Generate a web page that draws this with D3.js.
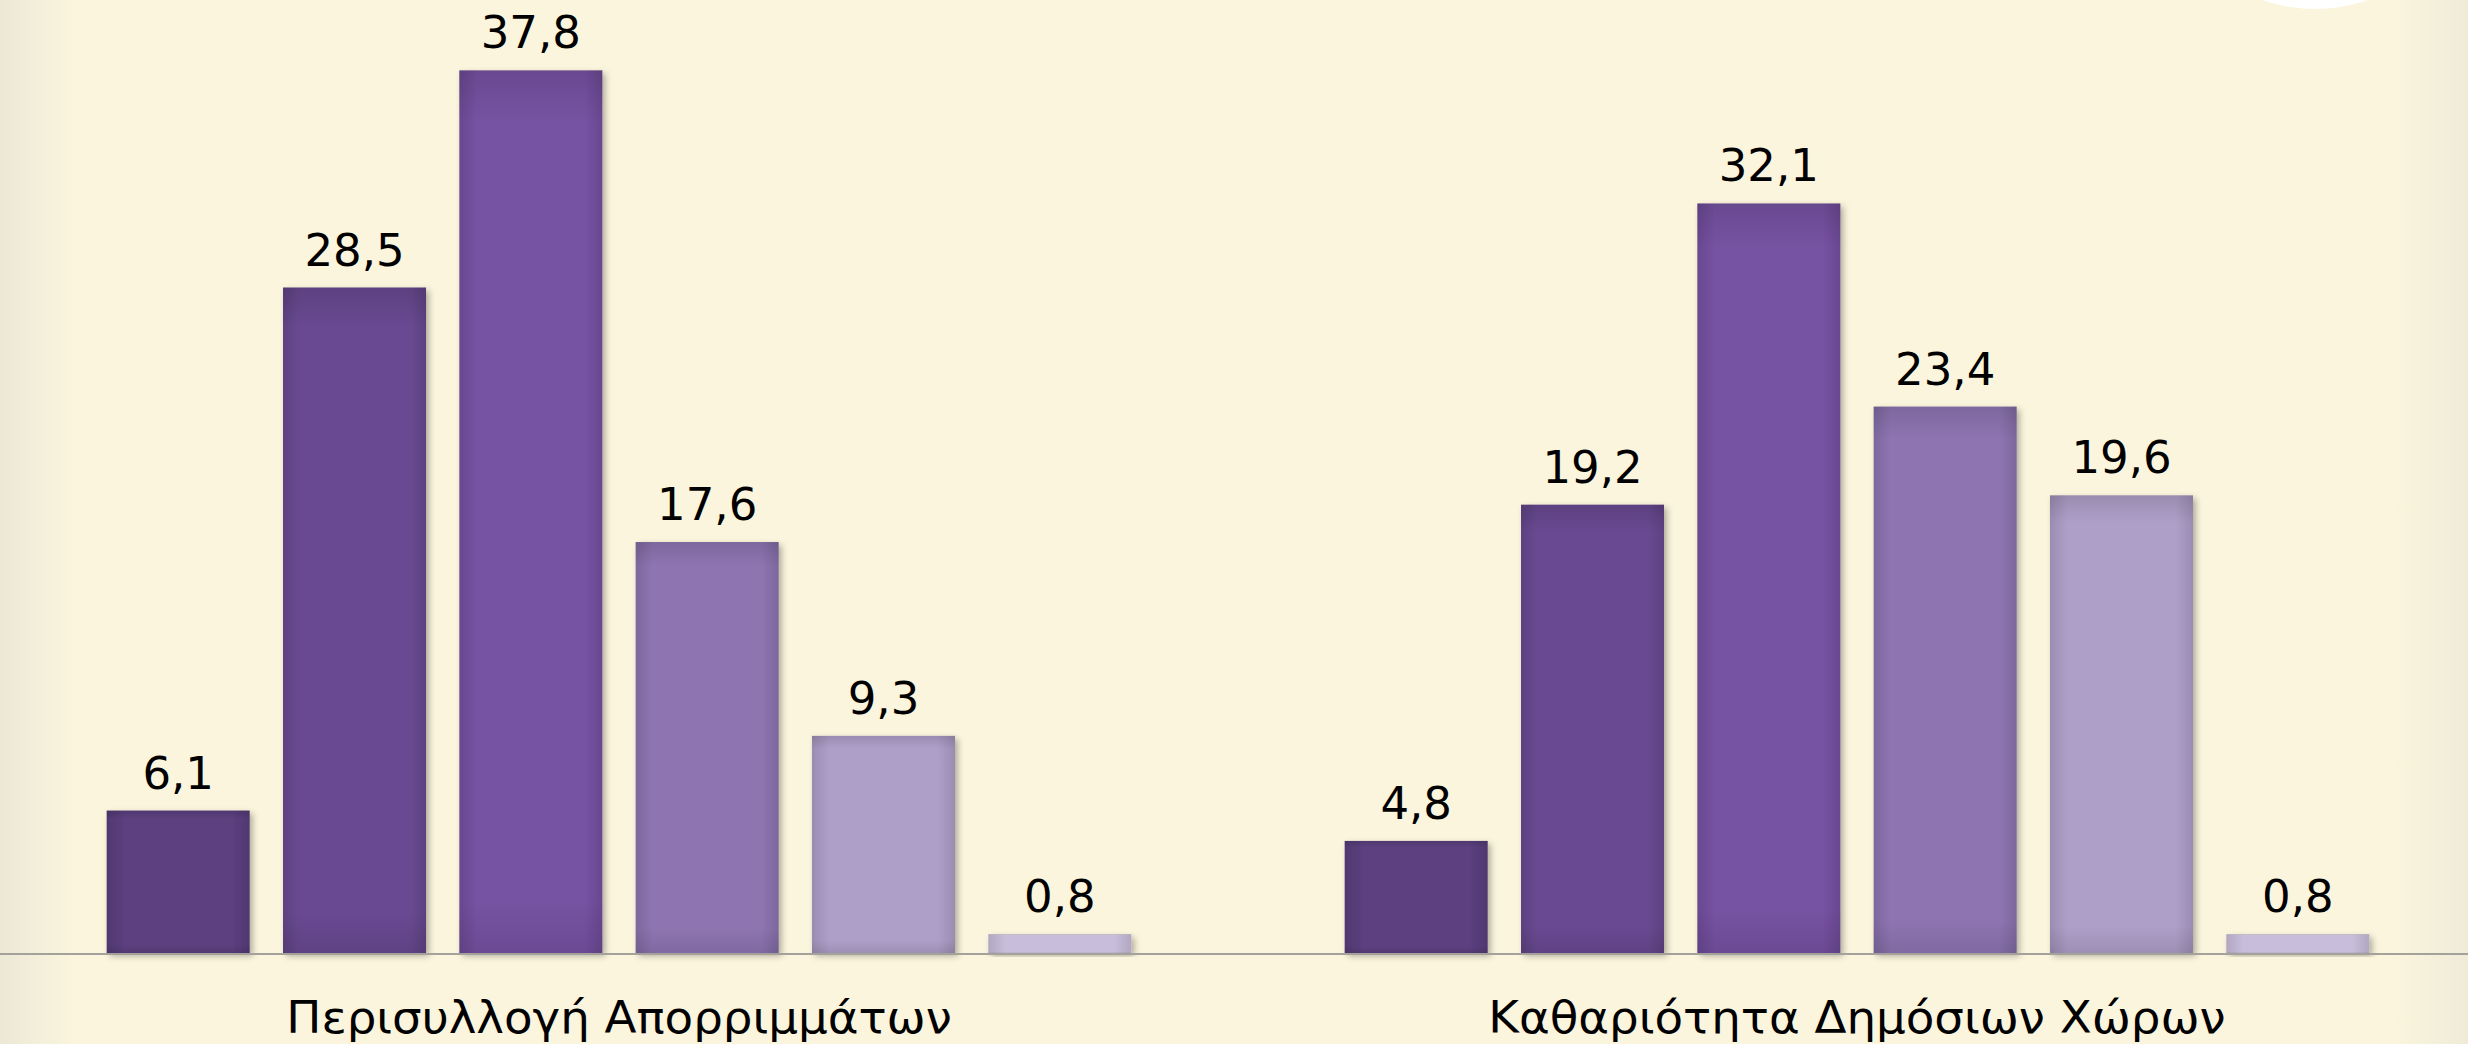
<!DOCTYPE html>
<html>
<head>
<meta charset="utf-8">
<script src="https://cdn.jsdelivr.net/npm/d3@7"></script>
<style>
  html, body { margin: 0; padding: 0; background: #fbf5dd; }
  svg { display: block; }
</style>
</head>
<body>
<svg id="chart"></svg>
<script>
// data
var categories = ["Περισυλλογή Απορριμμάτων", "Καθαριότητα Δημόσιων Χώρων"];
var seriesKeys = ["s1", "s2", "s3", "s4", "s5", "s6"];
var valuesWaste = [6.1, 28.5, 37.8, 17.6, 9.3, 0.8];
var valuesCleaning = [4.8, 19.2, 32.1, 23.4, 19.6, 0.8];
var seriesColors = ["#5b3f7f", "#694a92", "#7752a3", "#8e75b2", "#ae9fc8", "#c8bddb"];

var W = 2468, H = 1044;
var table = [valuesWaste, valuesCleaning].map(function(vals, i){
    return { cat: categories[i], vals: vals.map(function(v, j){ return {key: seriesKeys[j], value: v}; }) };
});

var svg = d3.select("#chart").attr("width", W).attr("height", H);
var defs = svg.append("defs");

// background with soft darker edges
var bg = defs.append("linearGradient").attr("id", "bg").attr("x1", 0).attr("x2", 1).attr("y1", 0).attr("y2", 0);
bg.append("stop").attr("offset", "0%").attr("stop-color", "#ebe8d6");
bg.append("stop").attr("offset", "3%").attr("stop-color", "#fbf5dd");
bg.append("stop").attr("offset", "97%").attr("stop-color", "#fbf5dd");
bg.append("stop").attr("offset", "100%").attr("stop-color", "#efebd8");
svg.append("rect").attr("width", W).attr("height", H).attr("fill", "url(#bg)");

svg.append("ellipse").attr("cx", 2315).attr("cy", -80).attr("rx", 120).attr("ry", 89).attr("fill", "#ffffff");

// bar gradients
seriesColors.forEach(function(c, i){
    var dark = d3.color(c).darker(0.35);
    var g = defs.append("linearGradient").attr("id", "bar" + i).attr("x1", 0).attr("x2", 1).attr("y1", 0).attr("y2", 0);
    g.append("stop").attr("offset", "0%").attr("stop-color", dark);
    g.append("stop").attr("offset", "12%").attr("stop-color", c);
    g.append("stop").attr("offset", "88%").attr("stop-color", c);
    g.append("stop").attr("offset", "100%").attr("stop-color", dark);
});
var vg = defs.append("linearGradient").attr("id", "vshade").attr("x1", 0).attr("x2", 0).attr("y1", 0).attr("y2", 1);
vg.append("stop").attr("offset", "0%").attr("stop-color", "#000").attr("stop-opacity", 0.12);
vg.append("stop").attr("offset", "6%").attr("stop-color", "#000").attr("stop-opacity", 0);
vg.append("stop").attr("offset", "94%").attr("stop-color", "#000").attr("stop-opacity", 0);
vg.append("stop").attr("offset", "100%").attr("stop-color", "#000").attr("stop-opacity", 0.1);

var shadow = defs.append("filter").attr("id", "shadow").attr("x", "-20%").attr("y", "-20%").attr("width", "140%").attr("height", "140%");
shadow.append("feDropShadow").attr("dx", 3).attr("dy", 3).attr("stdDeviation", 3)
    .attr("flood-color", "#000").attr("flood-opacity", 0.3);

// scales
var x0 = d3.scaleBand().domain(categories).range([0, 2476]).padding(0);
var x1 = d3.scaleBand().domain(seriesKeys).range([0, x0.bandwidth()])
    .paddingInner(0.189).paddingOuter(0.605);
var y = d3.scaleLinear().domain([0, 40]).range([953, 19]);

var fmt = d3.formatLocale({decimal: ",", thousands: ".", grouping: [3], currency: ["", "€"]}).format(".1f");

var groups = svg.selectAll("g.grp").data(table).enter().append("g")
    .attr("class", "grp")
    .attr("transform", function(d){ return "translate(" + x0(d.cat) + ",0)"; });

groups.selectAll("rect.bar").data(function(d){ return d.vals; }).enter().append("rect")
    .attr("class", "bar")
    .attr("x", function(d){ return x1(d.key); })
    .attr("y", function(d){ return y(d.value); })
    .attr("width", x1.bandwidth())
    .attr("height", function(d){ return y(0) - y(d.value); })
    .attr("fill", function(d, i){ return "url(#bar" + i + ")"; })
    .attr("filter", "url(#shadow)");

groups.selectAll("rect.shade").data(function(d){ return d.vals; }).enter().append("rect")
    .attr("class", "shade")
    .attr("x", function(d){ return x1(d.key); })
    .attr("y", function(d){ return y(d.value); })
    .attr("width", x1.bandwidth())
    .attr("height", function(d){ return y(0) - y(d.value); })
    .attr("fill", "url(#vshade)");

groups.selectAll("text.val").data(function(d){ return d.vals; }).enter().append("text")
    .attr("class", "val")
    .attr("x", function(d){ return x1(d.key) + x1.bandwidth() / 2; })
    .attr("y", function(d){ return y(d.value) - 22; })
    .attr("text-anchor", "middle")
    .style("font-family", "'DejaVu Sans', Verdana, sans-serif")
    .style("font-size", "45px")
    .style("fill", "#000")
    .text(function(d){ return fmt(d.value); });

// baseline
svg.append("line").attr("x1", 0).attr("x2", W).attr("y1", y(0) + 1).attr("y2", y(0) + 1)
    .attr("stroke", "#a3a19a").attr("stroke-width", 2);

// category axis labels (narrow face, widened a bit)
svg.selectAll("text.cat").data(categories).enter().append("text")
    .attr("class", "cat")
    .attr("transform", function(d){ return "translate(" + (x0(d) + x0.bandwidth() / 2) + ",1033) scale(1.18,1)"; })
    .attr("text-anchor", "middle")
    .style("font-family", "'Liberation Sans Narrow', 'DejaVu Sans Condensed', sans-serif")
    .style("font-size", "44px")
    .style("fill", "#000")
    .text(function(d){ return d; });
</script>
</body>
</html>
